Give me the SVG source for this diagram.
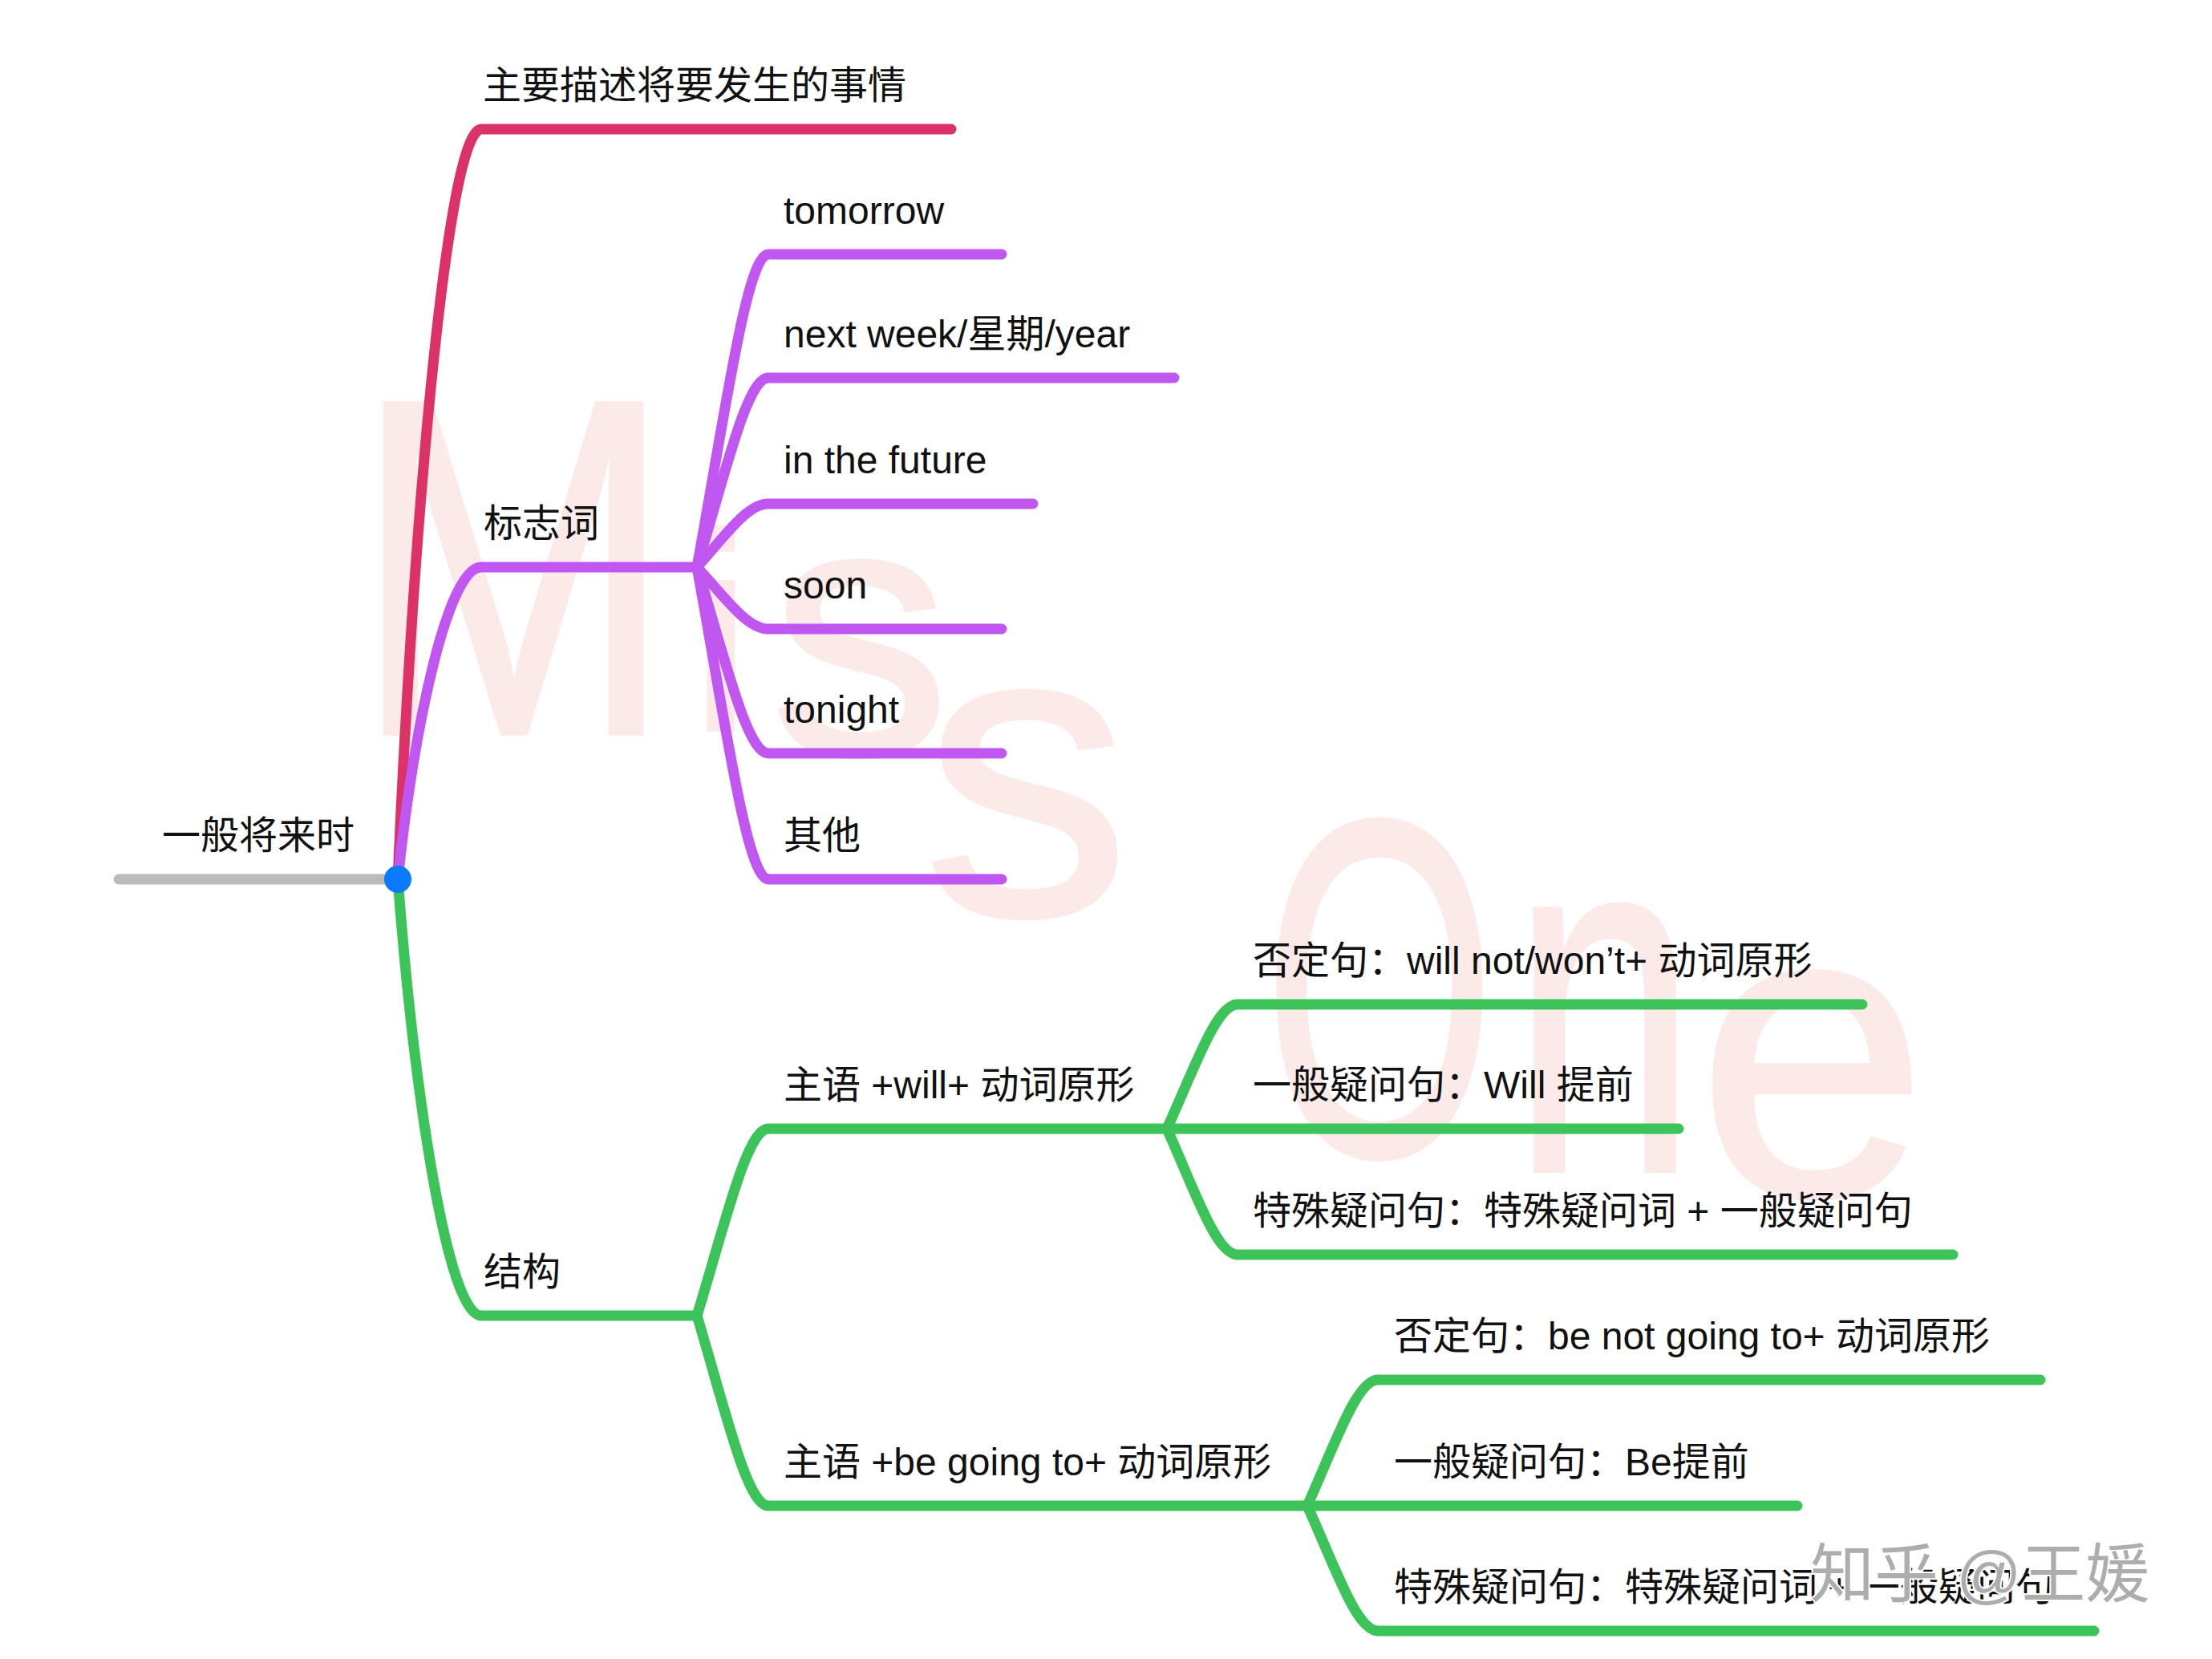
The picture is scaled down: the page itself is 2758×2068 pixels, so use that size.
<svg xmlns="http://www.w3.org/2000/svg" width="2758" height="2068" viewBox="0 0 2758 2068">
<style>
.t{font-family:"Liberation Sans","Noto Sans CJK SC",sans-serif;font-size:48px;fill:#111111;}
.br{fill:none;stroke-width:13;stroke-linecap:round;stroke-linejoin:round;}
.red{stroke:#DC3267;}
.pur{stroke:#BF57F0;}
.grn{stroke:#3CC45A;}
.wm{font-family:"Liberation Sans",sans-serif;fill:#FBEAE8;stroke:#FBEAE8;stroke-width:4;stroke-linejoin:round;}
.zh{font-family:"Liberation Sans","Noto Sans CJK SC",sans-serif;font-size:80px;fill:#ADADAD;stroke:#FFFFFF;stroke-width:4;paint-order:stroke;}
</style>
<rect width="2758" height="2068" fill="#FFFFFF"/>
<g id="watermark-missone">
<text class="wm"><tspan x="440" y="915" font-size="600" textLength="400" lengthAdjust="spacingAndGlyphs">M</tspan><tspan x="860" y="910" font-size="350">i</tspan><tspan x="960" y="940" font-size="450">s</tspan><tspan x="1150" y="1140" font-size="520">s</tspan><tspan x="1575" y="1440" font-size="600" textLength="290" lengthAdjust="spacingAndGlyphs">O</tspan><tspan x="1885" y="1460" font-size="620" textLength="230" lengthAdjust="spacingAndGlyphs">n</tspan><tspan x="2115" y="1490" font-size="520">e</tspan></text>
</g>
<g id="connectors">
<line x1="148" y1="1096" x2="496" y2="1096" stroke="#BBBBBB" stroke-width="13" stroke-linecap="round"/>
<path class="br red" d="M496,1096 C516.8,628.5 558.4,161 600,161 L1186,161"/>
<path class="br pur" d="M496,1096 C516.8,901.5 558.4,707 600,707 L869,707"/>
<path class="br grn" d="M496,1096 C516.8,1368 558.4,1640 600,1640 L869,1640"/>
<path class="br pur" d="M869,707 C904.6,512 931.3,317 958,317 L1249,317"/>
<path class="br pur" d="M869,707 C904.6,589 931.3,471 958,471 L1464,471"/>
<path class="br pur" d="M869,707 C904.6,667.5 931.3,628 958,628 L1288,628"/>
<path class="br pur" d="M869,707 C904.6,745.5 931.3,784 958,784 L1249,784"/>
<path class="br pur" d="M869,707 C904.6,823 931.3,939 958,939 L1249,939"/>
<path class="br pur" d="M869,707 C904.6,901.5 931.3,1096 958,1096 L1249,1096"/>
<path class="br grn" d="M869,1640 C904.6,1523.5 931.3,1407 958,1407 L1455,1407"/>
<path class="br grn" d="M869,1640 C904.6,1758.5 931.3,1877 958,1877 L1630,1877"/>
<path class="br grn" d="M1455,1407 C1490.2,1329.5 1516.6,1252 1543,1252 L2322,1252"/>
<path class="br grn" d="M1455,1407 L2093,1407"/>
<path class="br grn" d="M1455,1407 C1490.2,1485.5 1516.6,1564 1543,1564 L2435,1564"/>
<path class="br grn" d="M1630,1877 C1665.2,1798.5 1691.6,1720 1718,1720 L2544,1720"/>
<path class="br grn" d="M1630,1877 L2241,1877"/>
<path class="br grn" d="M1630,1877 C1665.2,1955 1691.6,2033 1718,2033 L2611,2033"/>
</g>
<g id="root"><circle cx="496" cy="1096" r="17" fill="#0A7AFF"/><text class="t" x="202" y="1058">一般将来时</text></g>
<g id="n-desc"><text class="t" x="602" y="123">主要描述将要发生的事情</text></g>
<g id="n-signal"><text class="t" x="603" y="669">标志词</text></g>
<g id="n-tomorrow"><text class="t" x="977" y="279">tomorrow</text></g>
<g id="n-nextweek"><text class="t" x="977" y="433">next week/星期/year</text></g>
<g id="n-future"><text class="t" x="977" y="590">in the future</text></g>
<g id="n-soon"><text class="t" x="977" y="746">soon</text></g>
<g id="n-tonight"><text class="t" x="977" y="901">tonight</text></g>
<g id="n-other"><text class="t" x="977" y="1058">其他</text></g>
<g id="n-struct"><text class="t" x="603" y="1602">结构</text></g>
<g id="n-will"><text class="t" x="977" y="1369">主语 +will+ 动词原形</text></g>
<g id="n-will-neg"><text class="t" x="1562" y="1214">否定句：will not/won’t+ 动词原形</text></g>
<g id="n-will-q"><text class="t" x="1562" y="1369">一般疑问句：Will 提前</text></g>
<g id="n-will-wh"><text class="t" x="1562" y="1526">特殊疑问句：特殊疑问词 + 一般疑问句</text></g>
<g id="n-going"><text class="t" x="977" y="1839">主语 +be going to+ 动词原形</text></g>
<g id="n-going-neg"><text class="t" x="1738" y="1682">否定句：be not going to+ 动词原形</text></g>
<g id="n-going-q"><text class="t" x="1738" y="1839">一般疑问句：Be提前</text></g>
<g id="n-going-wh"><text class="t" x="1738" y="1995">特殊疑问句：特殊疑问词 + 一般疑问句</text></g>
<g id="watermark-zhihu"><text class="zh" x="2257" y="1990">知乎 @王媛</text></g>
</svg>
